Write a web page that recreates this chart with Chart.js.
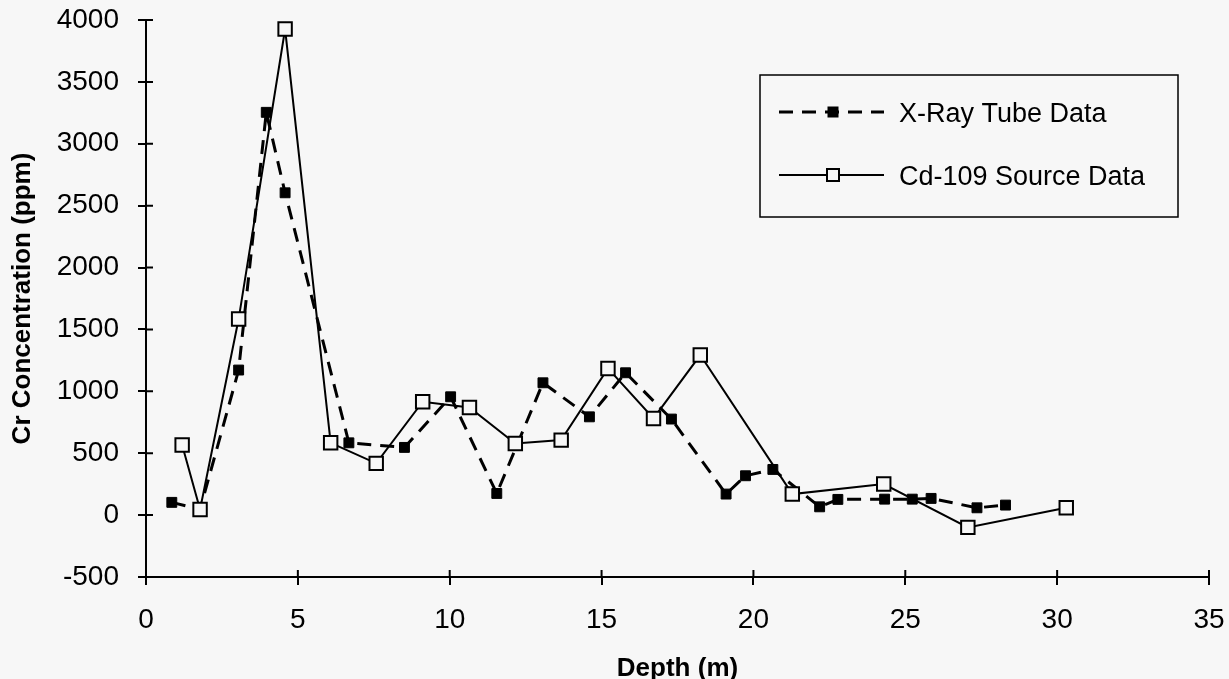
<!DOCTYPE html>
<html>
<head>
<meta charset="utf-8">
<script src="https://cdn.jsdelivr.net/npm/chart.js@4/dist/chart.umd.min.js"></script>
<style>
  html, body { margin: 0; padding: 0; background: #f7f7f7; }
  #wrap { width: 1229px; height: 679px; }
</style>
</head>
<body>
<div id="wrap"><canvas id="cr-chart" width="1229" height="679"></canvas></div>
<script>
// depth (m) and Cr (ppm)
const xrayDepth = [0.85, 1.78, 3.05, 3.96, 4.58, 6.68, 8.51, 10.03, 11.55, 13.07, 14.6, 15.79,
  17.3, 19.1, 19.74, 20.64, 22.18, 22.78, 24.32, 25.23, 25.85, 27.36, 28.3];
const xrayCr = [103, 46, 1172, 3254, 2604, 584, 547, 956, 175, 1069, 794, 1150,
  776, 170, 318, 369, 67, 127, 129, 129, 135, 59, 81];

const cdDepth = [1.19, 1.78, 3.05, 4.58, 6.08, 7.58, 9.11, 10.65, 12.16, 13.67, 15.21, 16.71,
  18.25, 21.28, 24.29, 27.06, 30.3];
const cdCr = [566, 46, 1584, 3927, 584, 418, 916, 870, 579, 606, 1185, 781,
  1293, 170, 251, -99, 59];

const seriesLabels = ['X-Ray Tube Data', 'Cd-109 Source Data'];
const xTitle = 'Depth (m)';
const yTitle = 'Cr Concentration (ppm)';

const FONT = "'Liberation Sans', Arial, sans-serif";
const INK = '#000';
const BG = '#f7f7f7';

const toPoints = (xs, ys) => xs.map((x, i) => ({ x, y: ys[i] }));

// ticks in the original cross the axis line, chart.js only draws the outer half
const innerTicks = {
  id: 'innerTicks',
  afterDraw(chart) {
    const { ctx, chartArea, scales } = chart;
    ctx.save();
    ctx.strokeStyle = INK;
    ctx.lineWidth = 2;
    ctx.beginPath();
    scales.x.ticks.forEach((t, i) => {
      const px = scales.x.getPixelForTick(i);
      ctx.moveTo(px, chartArea.bottom);
      ctx.lineTo(px, chartArea.bottom - 7);
    });
    scales.y.ticks.forEach((t, i) => {
      const py = scales.y.getPixelForTick(i);
      ctx.moveTo(chartArea.left, py);
      ctx.lineTo(chartArea.left + 7, py);
    });
    ctx.stroke();
    ctx.restore();
  },
};

// boxed legend sitting inside the plot, top right
const boxLegend = {
  id: 'boxLegend',
  afterDraw(chart) {
    const { ctx } = chart;
    const box = { x: 760, y: 75, w: 418, h: 142 };
    ctx.save();
    ctx.fillStyle = BG;
    ctx.fillRect(box.x, box.y, box.w, box.h);
    ctx.strokeStyle = INK;
    ctx.lineWidth = 1.5;
    ctx.strokeRect(box.x, box.y, box.w, box.h);

    const rows = [112, 175];
    chart.data.datasets.forEach((ds, i) => {
      const y = rows[i];
      ctx.strokeStyle = INK;
      ctx.lineWidth = ds.borderWidth;
      ctx.setLineDash(ds.borderDash || []);
      ctx.beginPath();
      ctx.moveTo(779, y);
      ctx.lineTo(884, y);
      ctx.stroke();
      ctx.setLineDash([]);
      const s = ds.legendMarker;
      ctx.fillStyle = ds.pointBackgroundColor;
      ctx.fillRect(833 - s / 2, y - s / 2, s, s);
      ctx.lineWidth = 2;
      ctx.strokeRect(833 - s / 2, y - s / 2, s, s);

      ctx.fillStyle = INK;
      ctx.font = `27px ${FONT}`;
      ctx.textBaseline = 'middle';
      ctx.fillText(ds.label, 899, y + 3);
    });
    ctx.restore();
  },
};

// eslint-disable-next-line no-new
new Chart(document.getElementById('cr-chart'), {
  type: 'scatter',
  data: {
    datasets: [
      {
        label: seriesLabels[0],
        data: toPoints(xrayDepth, xrayCr),
        showLine: true,
        borderColor: INK,
        borderWidth: 3,
        borderDash: [14, 9],
        pointStyle: 'rect',
        pointRadius: 7,
        pointBorderWidth: 1,
        pointBackgroundColor: INK,
        pointBorderColor: INK,
        legendMarker: 9,
        order: 1,
      },
      {
        label: seriesLabels[1],
        data: toPoints(cdDepth, cdCr),
        showLine: true,
        borderColor: INK,
        borderWidth: 2,
        pointStyle: 'rect',
        pointRadius: 9.5,
        pointBorderWidth: 2,
        pointBackgroundColor: BG,
        pointBorderColor: INK,
        legendMarker: 12,
        order: 0,
      },
    ],
  },
  plugins: [innerTicks, boxLegend],
  options: {
    responsive: false,
    animation: false,
    layout: {
      padding: { top: 20, right: 20, left: 0, bottom: 0 },
    },
    plugins: {
      legend: { display: false },
      tooltip: { enabled: false },
    },
    scales: {
      x: {
        type: 'linear',
        min: 0,
        max: 35,
        afterFit(scale) {
          scale.height = 102;
          scale.paddingLeft = 0;
          scale.paddingRight = 0;
        },
        border: { color: INK, width: 2 },
        grid: {
          drawOnChartArea: false,
          tickLength: 8,
          color: INK,
          lineWidth: 2,
        },
        ticks: {
          stepSize: 5,
          color: INK,
          padding: 18,
          font: { family: FONT, size: 28 },
          callback(val) { return String(val); },
        },
        title: {
          display: true,
          text: xTitle,
          color: INK,
          padding: 0,
          font: { family: FONT, size: 26, weight: 'bold', lineHeight: 0.8 },
        },
      },
      y: {
        type: 'linear',
        min: -500,
        max: 4000,
        afterFit(scale) {
          scale.width = 146;
          scale.paddingTop = 0;
          scale.paddingBottom = 0;
        },
        border: { color: INK, width: 2 },
        grid: {
          drawOnChartArea: false,
          tickLength: 8,
          color: INK,
          lineWidth: 2,
        },
        ticks: {
          stepSize: 500,
          color: INK,
          padding: 19,
          font: { family: FONT, size: 28 },
          callback(val) { return String(val); },
        },
        title: {
          display: true,
          text: yTitle,
          color: INK,
          padding: { top: 10, bottom: 0 },
          font: { family: FONT, size: 26, weight: 'bold', lineHeight: 1 },
        },
      },
    },
  },
});
</script>
</body>
</html>
